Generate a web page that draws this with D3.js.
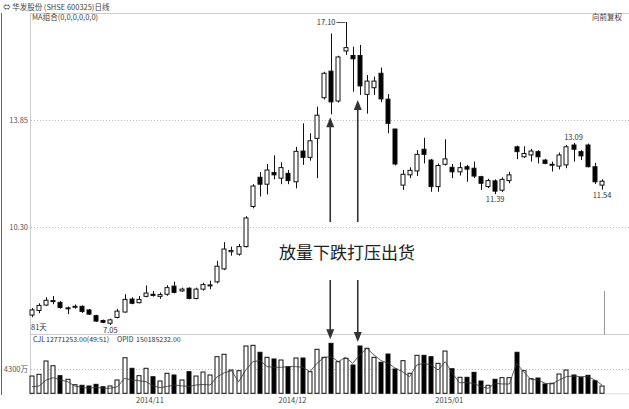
<!DOCTYPE html>
<html><head><meta charset="utf-8">
<script src="https://cdn.jsdelivr.net/npm/d3@7/dist/d3.min.js"></script>
<style>
html,body{margin:0;padding:0;background:#fff;}
svg{display:block;font-family:"Noto Sans CJK SC","Noto Sans",sans-serif;}
</style></head>
<body><svg id="c" width="629" height="409"></svg>
<script>
// ---- data ----
const openP  = [7.38,7.53,7.71,7.83,7.80,7.60,7.65,7.67,7.55,7.36,7.20,7.11,7.30,7.48,7.91,7.79,8.00,8.07,8.00,8.07,8.34,8.18,8.27,7.93,8.24,8.36,8.48,8.91,9.48,9.40,9.65,10.98,11.95,11.72,12.11,11.92,12.08,11.80,12.82,12.61,13.24,14.59,15.47,14.48,16.14,15.99,15.99,14.70,14.92,15.40,14.54,13.55,11.69,12.03,12.16,12.88,12.52,11.64,12.38,12.28,12.13,12.30,12.25,11.97,11.64,11.83,11.52,11.84,12.96,12.63,12.69,12.80,12.52,12.36,12.32,12.36,13.02,12.80,13.02,12.30,11.69];
const highP  = [7.61,7.77,7.97,8.01,7.84,7.66,7.73,7.70,7.58,7.39,7.23,7.26,7.58,8.07,7.97,8.01,8.36,8.18,8.13,8.37,8.49,8.29,8.30,8.29,8.45,8.52,9.18,9.80,9.65,9.74,10.66,11.72,12.12,12.39,12.68,12.45,12.19,12.96,13.74,13.41,14.29,15.45,16.72,15.98,17.10,16.28,16.34,15.34,15.29,15.59,14.71,13.56,12.19,12.28,12.85,13.26,12.56,12.41,13.21,12.39,12.45,12.36,12.47,12.00,11.90,11.88,11.95,12.13,13.00,12.98,12.89,12.85,12.56,12.47,12.77,13.02,13.09,12.85,13.07,12.43,11.88];
const lowP   = [7.31,7.44,7.68,7.74,7.59,7.41,7.59,7.45,7.38,7.15,7.11,7.05,7.27,7.46,7.74,7.77,7.97,7.99,7.92,8.02,8.10,8.15,7.90,7.90,8.19,8.24,8.43,8.87,9.35,9.35,9.62,10.92,11.31,11.38,11.88,11.72,11.72,11.58,12.36,12.50,11.92,14.53,14.04,14.43,16.01,14.79,14.68,14.06,14.68,14.44,13.41,12.34,11.53,11.92,11.99,12.41,11.47,11.47,12.34,11.92,12.01,11.80,11.92,11.53,11.59,11.39,11.46,11.75,12.55,12.59,12.47,12.41,12.38,12.14,12.21,12.25,12.47,12.52,12.28,11.73,11.54];
const closeP = [7.55,7.70,7.87,7.86,7.63,7.62,7.67,7.50,7.41,7.18,7.14,7.22,7.51,7.90,7.77,7.90,8.11,8.03,8.06,8.29,8.13,8.24,7.93,8.24,8.39,8.38,9.00,9.57,9.52,9.65,10.60,11.66,11.72,12.19,12.03,12.27,11.84,12.81,12.61,13.16,14.01,15.40,14.45,15.94,16.25,15.88,14.98,15.14,15.14,14.55,13.74,12.39,12.05,12.18,12.71,12.71,11.64,12.34,12.56,12.13,12.27,12.22,11.99,11.75,11.84,11.49,11.88,12.03,12.80,12.74,12.82,12.63,12.41,12.38,12.69,12.96,12.88,12.66,12.30,11.80,11.82];
// volume in 万 (10k shares)
const volume = [3020,3320,5650,4820,3080,2450,1500,1400,1280,1570,1150,1280,2330,6220,4370,3080,4370,2900,2150,3500,3200,2330,3780,3020,3720,3200,6400,6820,4070,3950,8270,8390,7170,6290,6000,5820,4650,6170,6170,3780,7690,6290,8740,5520,6120,4950,8270,7870,6290,5420,6870,4250,5700,3500,6640,6640,6400,5240,7390,4300,2800,2800,3670,2150,1400,2450,2730,2730,7170,3950,2550,2670,1630,1750,3370,4070,3200,2800,3150,2200,1277];
// volume average line, 万
const volAvg = [1150,1280,2320,2730,2320,2030,1280,1050,870,1050,870,870,1150,2620,2320,2200,2030,1300,1000,1200,1450,1300,1200,1450,1550,1450,2900,3600,3950,2000,4070,5530,5710,4660,4550,4550,4660,4660,4550,3780,5240,6290,6400,5530,6290,5240,6700,7870,6700,5710,5240,4370,3780,2900,4950,5240,4950,4070,5530,3490,1860,1860,1750,1160,870,1750,1630,1630,5240,3780,2440,2330,1750,1630,2330,2910,3030,2910,2910,2330,1450];
const priceTicks = [13.85, 10.30];
const volTick = 4300;
const monthLabels = ["2014/11","2014/12","2015/01"];
const monthIndex  = [16, 36, 58];
const dayCount = "81天";
const markHigh = {i:44, text:"17.10"};
const markLows = [{i:11,text:"7.05"},{i:65,text:"11.39"},{i:80,text:"11.54"}];
const markTop = {i:76, text:"13.09"};
const arrowIdx = [42, 46];

// ---- scales ----
const svg = d3.select("#c");
const n = openP.length;
const x = d3.scaleBand().domain(d3.range(n)).range([29.5, 604.5]).paddingInner(0.3);
const cx = i => x(i) + x.bandwidth()/2;
const y = d3.scaleLinear().domain([7.05, 17.10]).range([325, 22]);
const yv = d3.scaleLinear().domain([0, 4300]).range([393.3, 368.7]);
const bw = 5;

// frame
svg.append("line").attr("x1",1.5).attr("x2",1.5).attr("y1",13).attr("y2",395).attr("stroke","#666").attr("stroke-width",1);
svg.append("line").attr("x1",30.5).attr("x2",30.5).attr("y1",13).attr("y2",395).attr("stroke","#ccc");
svg.append("line").attr("x1",30).attr("x2",629).attr("y1",13.5).attr("y2",13.5).attr("stroke","#ccc");
svg.append("line").attr("x1",30).attr("x2",629).attr("y1",334.5).attr("y2",334.5).attr("stroke","#ccc");
svg.append("line").attr("x1",30).attr("x2",629).attr("y1",393.8).attr("y2",393.8).attr("stroke","#ddd");

// header texts
svg.append("text").attr("x",3).attr("y",10).attr("font-size",7.5).attr("fill","#444").text("⇔ 华发股份 (SHSE 600325)日线");
svg.append("text").attr("x",32).attr("y",20).attr("font-size",7.5).attr("fill","#444").text("MA组合(0,0,0,0,0,0)");
svg.append("text").attr("x",622).attr("y",20).attr("text-anchor","end").attr("font-size",7.5).attr("fill","#444").text("向前复权");

// price grid + labels
priceTicks.forEach(t=>{
  svg.append("line").attr("x1",31).attr("x2",629).attr("y1",Math.round(y(t))+0.5).attr("y2",Math.round(y(t))+0.5)
    .attr("stroke","#bbb").attr("stroke-dasharray","1,2");
  svg.append("text").attr("x",28).attr("y",y(t)+3).attr("text-anchor","end").attr("font-size",7.5).attr("fill","#555").text(t.toFixed(2));
});
// volume grid
svg.append("line").attr("x1",31).attr("x2",629).attr("y1",Math.round(yv(volTick))+0.5).attr("y2",Math.round(yv(volTick))+0.5)
  .attr("stroke","#bbb").attr("stroke-dasharray","1,2");
svg.append("text").attr("x",28).attr("y",yv(volTick)+3).attr("text-anchor","end").attr("font-size",7.5).attr("fill","#555").text(volTick+"万");

// candles
const data = d3.range(n).map(i=>({i,o:openP[i],h:highP[i],l:lowP[i],c:closeP[i],v:volume[i]}));
const g = svg.append("g");
g.selectAll("line.w").data(data).join("line")
  .attr("x1",d=>Math.round(cx(d.i))+0.5).attr("x2",d=>Math.round(cx(d.i))+0.5)
  .attr("y1",d=>y(d.h)).attr("y2",d=>y(d.l)).attr("stroke","#111").attr("stroke-width",1);
g.selectAll("rect.b").data(data).join("rect")
  .attr("x",d=>Math.round(cx(d.i))-2).attr("width",bw-1)
  .attr("y",d=>y(Math.max(d.o,d.c))).attr("height",d=>Math.max(1,Math.abs(y(d.o)-y(d.c))))
  .attr("fill",d=>d.c>=d.o?"#fff":"#000").attr("stroke","#111").attr("stroke-width",1);

// volume bars
g.selectAll("rect.v").data(data).join("rect")
  .attr("x",d=>Math.round(cx(d.i))-2).attr("width",bw-1)
  .attr("y",d=>yv(d.v)).attr("height",d=>yv(0)-yv(d.v))
  .attr("fill",d=>d.c>=d.o?"#fff":"#000").attr("stroke","#111").attr("stroke-width",1);
// volume average line
svg.append("path").datum(volAvg).attr("fill","none").attr("stroke","#333").attr("stroke-width",0.8)
  .attr("d",d3.line().x((d,i)=>cx(i)).y(d=>yv(d)));

// marks
svg.append("text").attr("x",cx(markHigh.i)-10).attr("y",y(highP[markHigh.i])+3).attr("text-anchor","end")
  .attr("font-size",7.5).attr("fill","#333").text(markHigh.text);
svg.append("line").attr("x1",cx(markHigh.i)-9).attr("x2",cx(markHigh.i)).attr("y1",y(highP[markHigh.i])+0.5).attr("y2",y(highP[markHigh.i])+0.5).attr("stroke","#555");
markLows.forEach(m=>{
  svg.append("text").attr("x",cx(m.i)).attr("y",y(lowP[m.i])+8).attr("text-anchor","middle").attr("font-size",7.5).attr("fill","#333").text(m.text);
});
svg.append("text").attr("x",cx(markTop.i)).attr("y",y(highP[markTop.i])-3).attr("text-anchor","middle").attr("font-size",7.5).attr("fill","#333").text(markTop.text);
svg.append("text").attr("x",31).attr("y",330).attr("font-size",7.5).attr("fill","#333").text(dayCount);

// volume header
const vh = [["CJL",33],["12771253.00(49:51)",46],["OPID",117],["150185232.00",136]];
vh.forEach(([t,xp])=>svg.append("text").attr("x",xp).attr("y",342).attr("font-size",7).attr("fill","#333").text(t));

// month labels
monthLabels.forEach((t,k)=>{
  svg.append("text").attr("x",cx(monthIndex[k])+4).attr("y",403).attr("text-anchor","middle").attr("font-size",7.5).attr("fill","#444").text(t);
});

// cursor line
svg.append("line").attr("x1",604.5).attr("x2",604.5).attr("y1",291).attr("y2",335).attr("stroke","#999");

// annotation
const ax = [cx(arrowIdx[0])-1, cx(arrowIdx[1])-2];
function arrow(xp, y0, y1){
  const dir = y1<y0 ? 1 : -1;
  svg.append("line").attr("x1",xp).attr("x2",xp).attr("y1",y0).attr("y2",y1+dir*8).attr("stroke","#333").attr("stroke-width",1.6);
  svg.append("path").attr("d",`M${xp},${y1} L${xp-4},${y1+dir*10} L${xp+4},${y1+dir*10} Z`).attr("fill","#333");
}
arrow(ax[0], 222, y(lowP[arrowIdx[0]])+3);
arrow(ax[1], 222, y(lowP[arrowIdx[1]])+5);
arrow(ax[0], 280, yv(volume[arrowIdx[0]])-4);
arrow(ax[1], 280, yv(volume[arrowIdx[1]])-4);
svg.append("text").attr("x",347).attr("y",259).attr("text-anchor","middle").attr("font-size",17).attr("fill","#222").text("放量下跌打压出货");
</script></body></html>
